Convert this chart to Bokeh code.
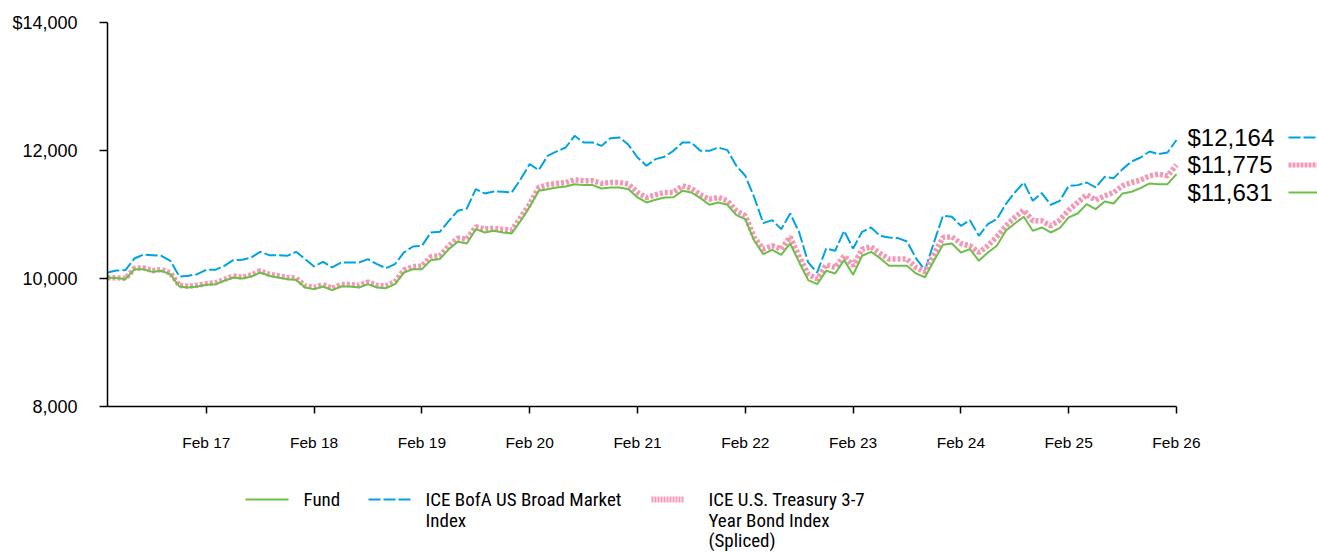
from bokeh.plotting import figure
from bokeh.models import Range1d, FixedTicker, ColumnDataSource
from bokeh.layouts import column
from bokeh.core.properties import value
from bokeh.embed import file_html
from bokeh.resources import INLINE

# ---------------- data ----------------
start_year, start_month = 2016, 3          # first point: Mar 2016, monthly to Feb 2026
fund = [10010, 10006, 9990, 10146, 10146, 10104, 10120, 10068, 9875, 9860,
        9875, 9901, 9912, 9964, 10016, 10000, 10031, 10094, 10042, 10016,
        9990, 9980, 9860, 9834, 9875, 9818, 9875, 9875, 9860, 9912,
        9860, 9849, 9912, 10094, 10146, 10146, 10287, 10303, 10459, 10573,
        10547, 10771, 10719, 10745, 10719, 10704, 10902, 11120, 11370, 11396,
        11422, 11438, 11474, 11459, 11459, 11407, 11422, 11422, 11396, 11266,
        11188, 11230, 11266, 11270, 11370, 11344, 11256, 11152, 11188, 11152,
        10990, 10928, 10589, 10381, 10448, 10370, 10547, 10251, 9975, 9912,
        10120, 10079, 10287, 10058, 10355, 10417, 10318, 10199, 10199, 10199,
        10079, 10020, 10277, 10527, 10547, 10407, 10459, 10277, 10407, 10511,
        10745, 10860, 10964, 10745, 10797, 10719, 10787, 10954, 11016, 11162,
        11084, 11204, 11172, 11329, 11355, 11412, 11485, 11474, 11474, 11631]
broad = [10094, 10125, 10131, 10313, 10375, 10365, 10354, 10276, 10032, 10042,
         10068, 10136, 10136, 10198, 10287, 10292, 10328, 10417, 10365, 10365,
         10354, 10417, 10302, 10188, 10261, 10172, 10250, 10250, 10250, 10302,
         10224, 10162, 10224, 10407, 10500, 10511, 10719, 10730, 10901, 11058,
         11094, 11396, 11329, 11360, 11355, 11344, 11553, 11787, 11693, 11917,
         11985, 12047, 12230, 12125, 12125, 12073, 12193, 12204, 12089, 11891,
         11761, 11865, 11902, 11995, 12125, 12125, 11995, 11995, 12047, 12006,
         11761, 11605, 11266, 10865, 10912, 10771, 11016, 10719, 10251, 10094,
         10469, 10433, 10745, 10469, 10730, 10797, 10667, 10641, 10631, 10579,
         10316, 10133, 10563, 10980, 10964, 10823, 10912, 10667, 10850, 10928,
         11162, 11344, 11501, 11214, 11334, 11152, 11214, 11448, 11459, 11500,
         11422, 11589, 11568, 11709, 11829, 11891, 11985, 11943, 11969, 12164]
treasury = [10010, 10012, 9998, 10160, 10165, 10122, 10140, 10088, 9890, 9878,
            9893, 9920, 9932, 9985, 10038, 10022, 10055, 10118, 10066, 10042,
            10016, 10006, 9886, 9862, 9903, 9848, 9905, 9905, 9892, 9944,
            9894, 9884, 9948, 10132, 10186, 10195, 10339, 10355, 10511, 10631,
            10615, 10808, 10771, 10787, 10766, 10756, 10954, 11162, 11422, 11464,
            11485, 11500, 11542, 11527, 11527, 11485, 11500, 11500, 11474, 11344,
            11266, 11308, 11344, 11344, 11448, 11407, 11308, 11240, 11266, 11214,
            11058, 10980, 10641, 10459, 10511, 10459, 10652, 10339, 10068, 9990,
            10214, 10172, 10355, 10199, 10459, 10495, 10391, 10303, 10303, 10303,
            10172, 10100, 10381, 10641, 10652, 10547, 10511, 10407, 10511, 10652,
            10823, 10954, 11068, 10902, 10902, 10823, 10912, 11068, 11188, 11308,
            11224, 11292, 11344, 11448, 11500, 11537, 11604, 11631, 11604, 11775]
end_labels = ["$12,164", "$11,775", "$11,631"]
y_ticks = [8000, 10000, 12000, 14000]
y_tick_labels = ["8,000", "10,000", "12,000", "$14,000"]
legend_names = ["Fund", "ICE BofA US Broad Market\nIndex",
                "ICE U.S. Treasury 3-7\nYear Bond Index\n(Spliced)"]

n = len(fund)
x = list(range(n))
months = [((start_month - 1 + i) % 12 + 1, start_year + (start_month - 1 + i) // 12) for i in x]
feb_idx = [i for i, (m, y) in enumerate(months) if m == 2]
feb_labels = {i: "Feb %02d" % (months[i][1] % 100) for i in feb_idx}

# ---------------- style ----------------
GREEN = "#6cc04a"
BLUE = "#00a3e0"
PINK = "#f597b2"
FONT = "Liberation Sans"
NARROW = "Liberation Sans Narrow, Arial Narrow, Roboto Condensed, Liberation Sans, sans-serif"

W, H = 1317, 470
BL, BT, BB = 107, 22, 64
FRAME_W = W - BL
FRAME_H = H - BT - BB
DATA_PX = 1069                      # pixels spanned by the data
ppm = DATA_PX / (n - 1)             # pixels per month
x_end = FRAME_W / ppm
upp = 6000 / FRAME_H                # data units per pixel

p = figure(width=W, height=H, output_backend="svg", toolbar_location=None,
           x_range=Range1d(0, x_end), y_range=Range1d(8000, 14000),
           min_border_left=BL, min_border_right=0, min_border_top=BT,
           min_border_bottom=BB)
p.outline_line_color = None
p.grid.visible = False
p.background_fill_color = "white"

p.xaxis.bounds = (0, n - 1)
p.xaxis.ticker = FixedTicker(ticks=feb_idx)
p.xaxis.major_label_overrides = feb_labels
p.xaxis.minor_tick_line_color = None
p.xaxis.major_tick_in = 0
p.xaxis.major_tick_out = 7
p.xaxis.major_label_standoff = 20
p.xaxis.major_label_text_font = FONT
p.xaxis.major_label_text_font_size = "15.5px"
p.xaxis.major_label_text_color = "black"

p.yaxis.ticker = FixedTicker(ticks=y_ticks)
p.yaxis.major_label_overrides = dict(zip(y_ticks, y_tick_labels))
p.yaxis.minor_tick_line_color = None
p.yaxis.major_tick_in = 0
p.yaxis.major_tick_out = 8
p.yaxis.major_label_standoff = 22
p.yaxis.major_label_text_font = FONT
p.yaxis.major_label_text_font_size = "18px"
p.yaxis.major_label_text_color = "black"
for ax in (p.xaxis, p.yaxis):
    ax.axis_line_color = "black"
    ax.axis_line_width = 1.5
    ax.major_tick_line_color = "black"
    ax.major_tick_line_width = 1.5

src = ColumnDataSource(dict(x=x, fund=fund, broad=broad, treasury=treasury))
p.line("x", "broad", source=src, line_color=BLUE, line_width=2, line_dash="12 3")
p.line("x", "treasury", source=src, line_color=PINK, line_width=5.5, line_dash="3 2")
p.line("x", "fund", source=src, line_color=GREEN, line_width=2)

# end-value labels with line samples
mid = treasury[-1]
gap = 27.5 * upp
lab_y = [mid + gap, mid, mid - gap]
lab_x = (n - 1) + 11 / ppm
p.text(x=[lab_x] * 3, y=lab_y, text=end_labels, text_font=value(FONT),
       text_font_size="24px", text_baseline="middle", text_align="left",
       text_color="black")
sx0 = (n - 1) + 112 / ppm
p.segment(x0=[sx0], y0=[lab_y[0]], x1=[x_end], y1=[lab_y[0]], line_color=BLUE,
          line_width=2, line_dash="12 3")
p.segment(x0=[sx0], y0=[lab_y[1]], x1=[x_end], y1=[lab_y[1]], line_color=PINK,
          line_width=5, line_dash="3 1")
p.segment(x0=[sx0], y0=[lab_y[2]], x1=[x_end], y1=[lab_y[2]], line_color=GREEN,
          line_width=2)

# ---------------- legend below ----------------
LH = 83
q = figure(width=W, height=LH, output_backend="svg", toolbar_location=None,
           x_range=Range1d(BL, W), y_range=Range1d(LH, 0),
           min_border_left=BL, min_border_right=0, min_border_top=0,
           min_border_bottom=0, x_axis_type=None, y_axis_type=None)
q.outline_line_color = None
q.grid.visible = False

sample_x = [245, 368, 651]
sample_len = [43, 44, 33]
text_x = [303, 425, 708]
row_y = 29
line_h = 20.5
styles = [dict(line_color=GREEN, line_width=2),
          dict(line_color=BLUE, line_width=2, line_dash="12 3"),
          dict(line_color=PINK, line_width=6, line_dash="2 1")]
tx, ty, tt = [], [], []
for k, name in enumerate(legend_names):
    q.segment(x0=[sample_x[k]], y0=[row_y], x1=[sample_x[k] + sample_len[k]],
              y1=[row_y], **styles[k])
    for j, part in enumerate(name.split("\n")):
        tx.append(text_x[k]); ty.append(row_y + j * line_h); tt.append(part)
q.text(x=tx, y=ty, text=tt, text_font=value(NARROW), text_font_size="19px",
       text_baseline="middle", text_align="left", text_color="black")

layout = column(p, q, spacing=0)
open("out.html", "w").write(file_html(layout, INLINE))
